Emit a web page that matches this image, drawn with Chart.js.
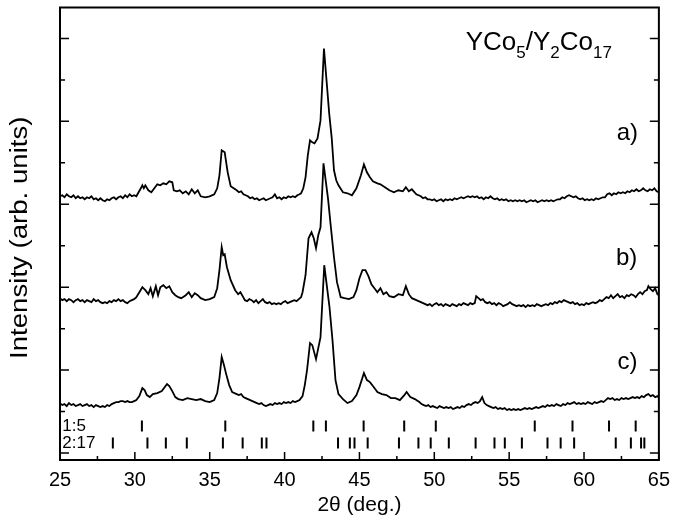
<!DOCTYPE html>
<html>
<head>
<meta charset="utf-8">
<script src="https://cdn.jsdelivr.net/npm/chart.js@4.4.1/dist/chart.umd.min.js"></script>
<style>
  html, body { margin: 0; padding: 0; background: #fff; }
  #wrap { width: 678px; height: 525px; }
</style>
</head>
<body>
<div id="wrap"><canvas id="chart"></canvas></div>
<script>
const FONT = "'Liberation Sans', Arial, sans-serif";

// patterns: [2theta, intensity] (vertical offset already included)
const patternA = [[25.0,264],[25.15,265],[25.3,263],[25.45,266],[25.6,264],[25.75,263],[25.9,265],[26.05,262],[26.2,264],[26.35,262],[26.5,263],[26.65,261],[26.8,263],[26.95,262],[27.1,264],[27.25,261],[27.4,262],[27.55,260],[27.7,262],[27.85,260],[28.0,259],[28.15,261],[28.3,260],[28.45,262],[28.6,263],[28.75,261],[28.9,263],[29.05,264],[29.2,262],[29.35,265],[29.5,263],[29.65,266],[29.8,264],[29.95,265],[30.1,264],[30.25,268],[30.4,272],[30.5,275],[30.6,272],[30.7,275],[30.9,270],[31.1,268],[31.3,272],[31.5,276],[31.7,275],[31.9,277],[32.1,276],[32.3,279],[32.5,278],[32.6,270],[32.8,269],[33.0,270],[33.2,267],[33.4,269],[33.6,266],[33.8,271],[34.0,267],[34.2,270],[34.4,264],[34.7,263],[35.0,264],[35.3,266],[35.5,272],[35.65,285],[35.8,310],[36.0,308],[36.2,288],[36.4,274],[36.6,272],[36.8,270],[36.95,268],[37.1,269],[37.25,266],[37.4,265],[37.55,264],[37.7,262],[37.85,263],[38.0,261],[38.15,262],[38.3,260],[38.45,261],[38.6,262],[38.75,260],[38.9,261],[39.05,262],[39.2,263],[39.35,266],[39.5,262],[39.65,263],[39.8,261],[39.95,263],[40.1,262],[40.25,264],[40.4,263],[40.55,264],[40.7,263],[40.85,265],[41.0,266],[41.1,267],[41.25,272],[41.4,283],[41.55,305],[41.7,320],[41.85,318],[42.0,317],[42.2,322],[42.4,340],[42.63,412],[42.98,347],[43.15,322],[43.3,290],[43.45,280],[43.6,275],[43.9,268],[44.2,267],[44.5,265],[44.8,272],[45.1,285],[45.3,296],[45.5,288],[45.7,283],[45.9,279],[46.2,277],[46.4,276],[46.7,273],[47.0,270],[47.3,268],[47.6,270],[47.9,269],[48.1,273],[48.3,269],[48.5,271],[48.8,266],[49.1,264],[49.25,262],[49.4,263],[49.55,261],[49.7,261],[49.85,260],[50.0,261],[50.15,259],[50.3,260],[50.45,261],[50.6,259],[50.75,261],[50.9,260],[51.05,261],[51.2,260],[51.35,262],[51.5,261],[51.65,262],[51.8,263],[51.95,262],[52.1,263],[52.25,264],[52.4,263],[52.55,264],[52.7,263],[52.85,264],[53.0,262],[53.15,263],[53.3,261],[53.45,263],[53.6,262],[53.75,264],[53.9,262],[54.05,261],[54.2,262],[54.35,260],[54.5,261],[54.65,260],[54.8,261],[54.95,259],[55.1,260],[55.25,259],[55.4,260],[55.55,259],[55.7,260],[55.85,259],[56.0,260],[56.15,258],[56.3,259],[56.45,260],[56.6,259],[56.75,260],[56.9,258],[57.05,259],[57.2,260],[57.35,259],[57.5,260],[57.65,259],[57.8,260],[57.95,259],[58.1,260],[58.25,261],[58.4,261],[58.55,263],[58.7,262],[58.85,264],[59.0,265],[59.15,264],[59.3,263],[59.45,264],[59.6,262],[59.75,261],[59.9,262],[60.05,260],[60.2,261],[60.35,260],[60.5,261],[60.65,260],[60.8,262],[60.95,261],[61.1,262],[61.25,263],[61.4,263],[61.55,266],[61.7,267],[61.85,265],[62.0,267],[62.15,266],[62.3,268],[62.45,267],[62.6,268],[62.75,267],[62.9,269],[63.05,268],[63.2,270],[63.35,269],[63.5,271],[63.65,269],[63.8,270],[63.95,272],[64.1,270],[64.25,269],[64.4,271],[64.55,270],[64.7,272],[64.85,269],[65.0,268]];

const patternB = [[25.0,162],[25.15,160],[25.3,161],[25.45,159],[25.6,161],[25.75,160],[25.9,158],[26.05,160],[26.2,161],[26.35,159],[26.5,160],[26.65,158],[26.8,160],[26.95,159],[27.1,158],[27.25,161],[27.4,159],[27.55,160],[27.7,158],[27.85,157],[28.0,158],[28.15,157],[28.3,159],[28.45,158],[28.6,160],[28.75,159],[28.9,161],[29.05,159],[29.2,160],[29.35,158],[29.5,157],[29.65,159],[29.8,160],[29.95,161],[30.1,163],[30.3,168],[30.5,173],[30.7,170],[30.9,166],[31.05,172],[31.2,164],[31.4,174],[31.55,165],[31.7,173],[31.9,175],[32.1,172],[32.3,174],[32.5,168],[32.7,165],[32.9,163],[33.1,162],[33.4,165],[33.6,168],[33.8,163],[34.0,167],[34.2,165],[34.4,162],[34.7,160],[35.0,161],[35.3,163],[35.5,172],[35.65,190],[35.8,213],[35.9,205],[36.0,206],[36.15,193],[36.4,180],[36.7,170],[36.9,166],[37.05,168],[37.2,164],[37.35,160],[37.5,159],[37.65,161],[37.8,160],[37.95,158],[38.1,160],[38.25,157],[38.4,159],[38.55,161],[38.7,158],[38.85,157],[39.0,158],[39.15,156],[39.3,157],[39.45,156],[39.6,157],[39.75,156],[39.9,158],[40.05,159],[40.2,157],[40.35,158],[40.5,159],[40.65,160],[40.8,159],[40.95,161],[41.1,163],[41.2,168],[41.4,185],[41.6,222],[41.8,228],[41.95,222],[42.1,212],[42.25,225],[42.4,233],[42.6,297],[42.9,262],[43.1,232],[43.3,203],[43.5,178],[43.75,163],[44.0,162],[44.3,161],[44.6,163],[44.8,170],[45.0,182],[45.2,190],[45.4,190],[45.6,184],[45.8,176],[46.0,172],[46.2,168],[46.4,172],[46.6,166],[46.8,168],[47.0,164],[47.3,163],[47.6,166],[47.9,165],[48.1,174],[48.3,166],[48.5,162],[48.8,160],[49.1,158],[49.25,157],[49.4,156],[49.55,155],[49.7,156],[49.85,154],[50.0,156],[50.15,157],[50.3,155],[50.45,156],[50.6,154],[50.75,156],[50.9,155],[51.05,154],[51.2,156],[51.35,155],[51.5,154],[51.65,156],[51.8,155],[51.95,157],[52.1,156],[52.25,155],[52.4,157],[52.55,156],[52.7,157],[52.8,164],[52.95,162],[53.1,160],[53.25,161],[53.4,158],[53.55,157],[53.7,158],[53.85,156],[54.0,157],[54.15,155],[54.3,157],[54.45,156],[54.6,154],[54.75,155],[54.9,156],[55.05,158],[55.2,156],[55.35,155],[55.5,154],[55.65,155],[55.8,154],[55.95,155],[56.1,153],[56.25,155],[56.4,154],[56.55,155],[56.7,154],[56.85,156],[57.0,155],[57.15,154],[57.3,155],[57.45,156],[57.6,155],[57.75,157],[57.9,156],[58.05,158],[58.2,157],[58.35,159],[58.5,158],[58.65,160],[58.8,159],[58.95,158],[59.1,157],[59.25,158],[59.4,156],[59.55,157],[59.7,155],[59.85,156],[60.0,155],[60.15,157],[60.3,156],[60.45,157],[60.6,158],[60.75,157],[60.9,158],[61.05,160],[61.2,159],[61.35,161],[61.5,163],[61.65,162],[61.8,165],[61.95,162],[62.1,164],[62.25,166],[62.4,163],[62.55,164],[62.7,162],[62.85,165],[63.0,164],[63.15,166],[63.3,165],[63.45,163],[63.6,166],[63.75,168],[63.9,166],[64.05,169],[64.2,170],[64.3,174],[64.45,171],[64.6,169],[64.75,172],[64.9,166],[65.0,165]];

const patternC = [[25.0,57],[25.15,55],[25.3,56],[25.45,54],[25.6,57],[25.75,55],[25.9,56],[26.05,54],[26.2,55],[26.35,56],[26.5,54],[26.65,55],[26.8,56],[26.95,54],[27.1,55],[27.25,53],[27.4,55],[27.55,54],[27.7,53],[27.85,54],[28.0,53],[28.15,55],[28.3,54],[28.45,56],[28.6,57],[28.75,58],[28.9,58],[29.05,59],[29.2,59],[29.35,58],[29.5,59],[29.65,58],[29.8,58],[29.95,59],[30.1,60],[30.3,64],[30.5,72],[30.65,70],[30.8,65],[31.0,63],[31.2,66],[31.5,67],[31.8,69],[32.0,73],[32.15,76],[32.3,74],[32.5,69],[32.7,63],[32.9,61],[33.2,60],[33.5,62],[33.8,61],[34.1,60],[34.4,61],[34.7,59],[35.0,58],[35.3,60],[35.5,67],[35.65,82],[35.8,103],[35.95,95],[36.1,86],[36.3,75],[36.5,68],[36.8,66],[36.95,65],[37.1,66],[37.25,63],[37.4,62],[37.55,61],[37.7,60],[37.85,59],[38.0,58],[38.15,57],[38.3,56],[38.45,57],[38.6,55],[38.75,54],[38.9,55],[39.05,56],[39.2,55],[39.35,57],[39.5,56],[39.65,57],[39.8,56],[39.95,58],[40.1,57],[40.25,58],[40.4,57],[40.55,59],[40.7,58],[40.85,59],[41.0,60],[41.2,64],[41.35,75],[41.5,90],[41.7,117],[41.85,115],[42.1,101],[42.25,112],[42.4,123],[42.65,195],[43.0,153],[43.2,120],[43.4,80],[43.6,66],[43.9,61],[44.2,57],[44.5,59],[44.8,65],[45.0,73],[45.3,87],[45.5,80],[45.7,78],[45.9,74],[46.2,68],[46.5,66],[46.8,65],[47.1,62],[47.4,62],[47.7,60],[48.0,65],[48.15,68],[48.4,63],[48.7,61],[49.0,58],[49.15,56],[49.3,55],[49.45,54],[49.6,55],[49.75,53],[49.9,54],[50.05,53],[50.2,52],[50.35,54],[50.5,53],[50.65,52],[50.8,53],[50.95,52],[51.1,53],[51.25,51],[51.4,52],[51.55,53],[51.7,52],[51.85,54],[52.0,53],[52.15,55],[52.3,56],[52.45,55],[52.6,57],[52.75,58],[52.9,57],[53.05,59],[53.2,63],[53.35,57],[53.5,55],[53.65,54],[53.8,53],[53.95,52],[54.1,53],[54.25,51],[54.4,52],[54.55,51],[54.7,52],[54.85,50],[55.0,51],[55.15,50],[55.3,51],[55.45,50],[55.6,51],[55.75,50],[55.9,51],[56.05,52],[56.2,51],[56.35,52],[56.5,51],[56.65,52],[56.8,53],[56.95,52],[57.1,53],[57.25,54],[57.4,53],[57.55,55],[57.7,54],[57.85,55],[58.0,54],[58.15,56],[58.3,55],[58.45,54],[58.6,56],[58.75,55],[58.9,57],[59.05,56],[59.2,57],[59.35,58],[59.5,56],[59.65,57],[59.8,56],[59.95,57],[60.1,56],[60.25,58],[60.4,57],[60.55,56],[60.7,58],[60.85,57],[61.0,58],[61.15,59],[61.3,58],[61.45,60],[61.6,62],[61.75,61],[61.9,62],[62.05,60],[62.2,61],[62.35,60],[62.5,62],[62.65,61],[62.8,62],[62.95,61],[63.1,62],[63.25,63],[63.4,62],[63.55,63],[63.7,62],[63.85,64],[64.0,63],[64.15,65],[64.3,66],[64.45,64],[64.6,65],[64.75,63],[64.9,64],[65.0,62]];

// reference reflection positions
const peaks15 = [30.47, 36.04, 41.92, 42.76, 45.28, 47.99, 50.1, 56.71, 59.23, 61.67, 63.45];
const peaks217 = [28.53, 30.84, 32.07, 33.47, 35.88, 37.2, 38.48, 38.79, 43.57, 44.36, 44.67, 45.55, 47.64, 48.94, 49.76, 50.97, 52.76, 54.02, 54.71, 55.85, 57.56, 58.44, 59.34, 62.12, 63.13, 63.81, 64.03];

const xTicks = [25, 30, 35, 40, 45, 50, 55, 60, 65];
const yTicks = [7, 48.5, 90, 131.5, 173, 214.5, 256, 297.5, 339, 380.5, 422];

// curve labels [text, 2theta, intensity]
const curveLabels = [['a)', 62.9, 327], ['b)', 62.85, 202], ['c)', 62.9, 98]];
const rowLabels = [['1:5', 25.15, 34], ['2:17', 25.15, 17]];
const row15 = 34, row217 = 17;

const toXY = arr => arr.map(p => ({ x: p[0], y: p[1] }));

const decorations = {
  id: 'decorations',
  afterDraw(chart) {
    const { ctx, chartArea: a, scales: { x, y } } = chart;
    ctx.save();
    ctx.strokeStyle = '#000';
    ctx.fillStyle = '#000';
    ctx.lineWidth = 2;
    ctx.strokeRect(a.left, a.top, a.right - a.left, a.bottom - a.top);

    // inward ticks
    ctx.lineWidth = 1.5;
    ctx.beginPath();
    for (let v = xTicks[0]; v <= xTicks[xTicks.length - 1]; v += 2.5) {
      const px = x.getPixelForValue(v);
      const len = v % 5 === 0 ? 8 : 4;
      ctx.moveTo(px, a.bottom);
      ctx.lineTo(px, a.bottom - len);
    }
    yTicks.forEach((v, i) => {
      const py = y.getPixelForValue(v);
      const len = i % 2 === 0 ? 9 : 5;
      ctx.moveTo(a.left, py); ctx.lineTo(a.left + len, py);
      ctx.moveTo(a.right, py); ctx.lineTo(a.right - len, py);
    });
    ctx.stroke();

    // labels a) b) c)
    ctx.font = '24px ' + FONT;
    ctx.textAlign = 'center';
    ctx.textBaseline = 'middle';
    curveLabels.forEach(l => ctx.fillText(l[0], x.getPixelForValue(l[1]), y.getPixelForValue(l[2])));

    // phase rows
    ctx.font = '17px ' + FONT;
    ctx.textAlign = 'left';
    rowLabels.forEach(l => ctx.fillText(l[0], x.getPixelForValue(l[1]), y.getPixelForValue(l[2])));

    // title with subscripts
    const parts = [['YCo', 0], ['5', 1], ['/Y', 0], ['2', 1], ['Co', 0], ['17', 1]];
    let tx = x.getPixelForValue(52.1);
    const ty = y.getPixelForValue(410);
    ctx.textBaseline = 'alphabetic';
    parts.forEach(([t, sub]) => {
      ctx.font = (sub ? '17px ' : '26px ') + FONT;
      ctx.fillText(t, tx, sub ? ty + 8 : ty);
      tx += ctx.measureText(t).width;
    });

    // y axis title, a little stretched like the original
    ctx.save();
    ctx.translate(21, (a.top + a.bottom) / 2 + 4);
    ctx.rotate(-Math.PI / 2);
    ctx.scale(1.2, 1);
    ctx.font = '23px ' + FONT;
    ctx.textAlign = 'center';
    ctx.textBaseline = 'middle';
    ctx.fillText('Intensity (arb. units)', 0, 0);
    ctx.restore();

    ctx.restore();
  }
};

const lineSet = data => ({
  data: toXY(data),
  borderColor: '#000',
  borderWidth: 1.8,
  pointRadius: 0,
  tension: 0,
  fill: false
});

const markSet = (pos, level) => ({
  type: 'scatter',
  data: pos.map(v => ({ x: v, y: level })),
  pointStyle: 'line',
  rotation: 90,
  radius: 5.5,
  borderColor: '#000',
  borderWidth: 2,
  backgroundColor: '#000'
});

new Chart(document.getElementById('chart'), {
  type: 'line',
  data: {
    datasets: [
      lineSet(patternA),
      lineSet(patternB),
      lineSet(patternC),
      markSet(peaks15, row15),
      markSet(peaks217, row217)
    ]
  },
  options: {
    responsive: true,
    maintainAspectRatio: false,
    animation: false,
    layout: { padding: { top: 7, right: 13, left: 0, bottom: 0 } },
    plugins: { legend: { display: false }, tooltip: { enabled: false } },
    scales: {
      x: {
        type: 'linear',
        min: 25, max: 65,
        afterFit: s => { s.height = 65; },
        afterBuildTicks: s => { s.ticks = xTicks.map(v => ({ value: v })); },
        grid: { display: false, drawTicks: false },
        border: { display: false },
        ticks: { color: '#000', padding: 8, font: { family: FONT, size: 20 } },
        title: { display: true, text: '2θ (deg.)', color: '#000', padding: { top: 0, bottom: 7 }, font: { family: FONT, size: 21 } }
      },
      y: {
        min: 0, max: 453,
        afterFit: s => { s.width = 60; },
        grid: { display: false, drawTicks: false },
        border: { display: false },
        ticks: { display: false },
        title: { display: false }
      }
    }
  },
  plugins: [decorations]
});
</script>
</body>
</html>
